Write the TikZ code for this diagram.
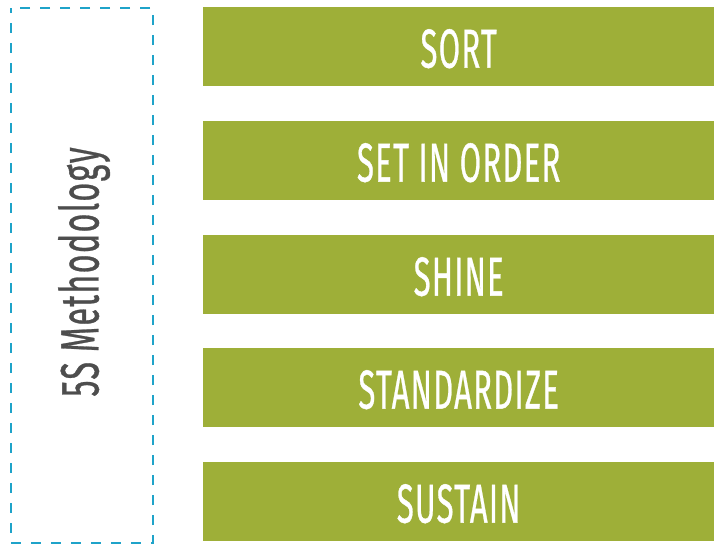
\documentclass[tikz,border=0pt]{standalone}
\usepackage{fontspec}
\usepackage{graphicx}
\setmainfont{Fira Sans}
\newfontfamily\barfont[FakeBold=0.8,LetterSpace=4]{Fira Sans}
\definecolor{barGreen}{HTML}{9EAF38}
\definecolor{dashBlue}{HTML}{1FA3C9}
\definecolor{labelGray}{HTML}{4D4D4D}
\begin{document}
\begin{tikzpicture}[x=1pt,y=-1pt,
  bar/.style={fill=barGreen, draw=none, minimum width=511pt, minimum height=79pt, inner sep=0pt, anchor=north west},
  bartext/.style={text=white, font=\fontsize{55}{55}\barfont},
  sidebox/.style={draw=dashBlue, line width=2.2pt, dash pattern=on 10pt off 10pt, dash phase=5pt}]
\useasboundingbox (0,0) rectangle (715,544);
\draw[sidebox] (11,8) rectangle (153,543);
\node[bar] (b1) at (203,7) {};
\node[bar] (b2) at (203,121) {};
\node[bar] (b3) at (203,235) {};
\node[bar] (b4) at (203,348) {};
\node[bar] (b5) at (203,462) {};
\foreach \n/\t in {b1/SORT,b2/SET IN ORDER,b3/SHINE,b4/STANDARDIZE,b5/SUSTAIN}{
  \node[bartext] (t\n) at ([yshift=-2pt]\n.center) {\scalebox{0.565}[1]{\t}};
}
\node[text=labelGray, font=\fontsize{54}{54}\barfont, rotate=90] (side) at (84,272) {\scalebox{0.6}[1]{5S Methodology}};
\end{tikzpicture}
\end{document}
